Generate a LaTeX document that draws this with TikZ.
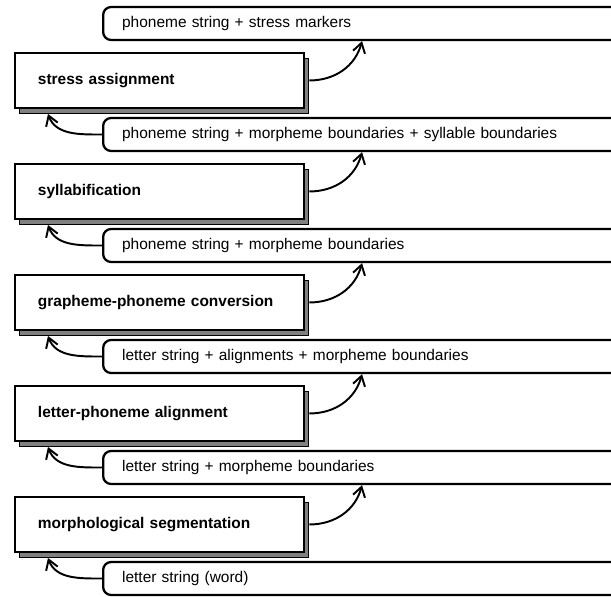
\documentclass[tikz,border=0pt]{standalone}
\usepackage{fontspec}
\setmainfont{Liberation Sans}
\usetikzlibrary{arrows.meta}
\usetikzlibrary{shadows}
\tikzset{
  module/.style={draw, line width=1.1pt, fill=white, anchor=north west,
    minimum width=5.78cm, minimum height=1.1cm, inner xsep=0.46cm,
    text width=4.86cm, align=left, font=\bfseries\fontsize{8.8}{10.5}\selectfont,
    drop shadow={shadow xshift=0.09cm, shadow yshift=-0.1cm,
      fill=black!50, opacity=1, draw=black, line width=0.5pt}},
  repr/.style={draw, line width=1.3pt, fill=white, rounded corners=0.16cm,
    anchor=west, minimum height=0.66cm, inner xsep=0.38cm,
    text width=11cm, align=left},
  flow/.style={line width=1.1pt, -{Straight Barb[length=5.5pt,width=7pt]}}}

\begin{document}
\begin{tikzpicture}[font=\fontsize{8.8}{10.5}\selectfont]
      \clip (0,0) rectangle (12.22,11.92);

      \node [repr] (phstress) at (2.04, 11.45) {phoneme string + stress markers};
      \node [repr] (phsyll) at (2.04, 9.23) {phoneme string + morpheme boundaries + syllable boundaries};
      \node [repr] (phmorph) at (2.04, 7.01) {phoneme string + morpheme boundaries};
      \node [repr] (ltalign) at (2.04, 4.79) {letter string + alignments + morpheme boundaries};
      \node [repr] (ltmorph) at (2.04, 2.57) {letter string + morpheme boundaries};
      \node [repr] (word) at (2.04, 0.35) {letter string (word)};

      \node [module] (stress) at (0.28, 10.88) {stress assignment};
      \node [module] (syll) at (0.28, 8.66) {syllabification};
      \node [module] (gpconv) at (0.28, 6.44) {grapheme-phoneme conversion};
      \node [module] (lpalign) at (0.28, 4.22) {letter-phoneme alignment};
      \node [module] (morph) at (0.28, 2.00) {morphological segmentation};

      % outputs
      \draw [flow] ([xshift=0.09cm]stress.east) to[out=0, in=-105] ([xshift=5.2cm]phstress.south west);
      \draw [flow] ([xshift=0.09cm]syll.east) to[out=0, in=-105] ([xshift=5.2cm]phsyll.south west);
      \draw [flow] ([xshift=0.09cm]gpconv.east) to[out=0, in=-105] ([xshift=5.2cm]phmorph.south west);
      \draw [flow] ([xshift=0.09cm]lpalign.east) to[out=0, in=-105] ([xshift=5.2cm]ltalign.south west);
      \draw [flow] ([xshift=0.09cm]morph.east) to[out=0, in=-105] ([xshift=5.2cm]ltmorph.south west);

      % inputs
      \draw [flow] (phsyll.west) to[out=180, in=-70] ([xshift=0.68cm, yshift=-0.1cm]stress.south west);
      \draw [flow] (phmorph.west) to[out=180, in=-70] ([xshift=0.68cm, yshift=-0.1cm]syll.south west);
      \draw [flow] (ltalign.west) to[out=180, in=-70] ([xshift=0.68cm, yshift=-0.1cm]gpconv.south west);
      \draw [flow] (ltmorph.west) to[out=180, in=-70] ([xshift=0.68cm, yshift=-0.1cm]lpalign.south west);
      \draw [flow] (word.west) to[out=180, in=-70] ([xshift=0.68cm, yshift=-0.1cm]morph.south west);

    \end{tikzpicture}
\end{document}
